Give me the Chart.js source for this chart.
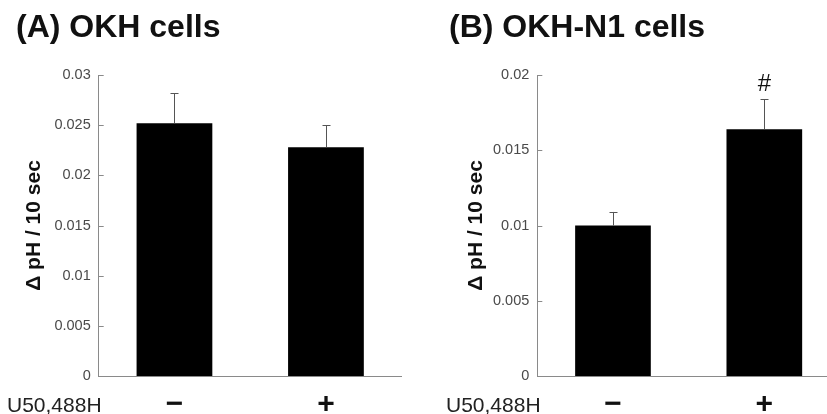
<!DOCTYPE html>
<html>
<head>
<meta charset="utf-8">
<script src="https://cdn.jsdelivr.net/npm/chart.js@4.4.1/dist/chart.umd.min.js"></script>
<style>
  html, body { margin: 0; padding: 0; background: #fff; }
  body { width: 827px; height: 414px; position: relative; overflow: hidden; font-family: "Liberation Sans", Arial, sans-serif; }
  .panel { position: absolute; top: 0; height: 414px; }
  .title { position: absolute; top: 8px; font-weight: bold; font-size: 32px; line-height: 36px; color: #111; white-space: nowrap; }
  .drug { position: absolute; top: 393px; font-size: 21px; line-height: 24px; color: #222; white-space: nowrap; }
</style>
</head>
<body>
<div class="panel" style="left:0;width:420px"><canvas id="chart-a" width="420" height="414"></canvas></div>
<div class="panel" style="left:420px;width:440px"><canvas id="chart-b" width="440" height="414"></canvas></div>
<div class="title" style="left:16px">(A) OKH cells</div>
<div class="title" style="left:449px">(B) OKH-N1 cells</div>
<div class="drug" style="left:7px">U50,488H</div>
<div class="drug" style="left:446px">U50,488H</div>
<script>
  var categories = ["\u2212", "+"];

  var valuesA = [0.0252, 0.0228];
  var errorsA = [0.0030, 0.0022];
  var ticksA = [0, 0.005, 0.01, 0.015, 0.02, 0.025, 0.03];
  var tickLabelsA = ["0", "0.005", "0.01", "0.015", "0.02", "0.025", "0.03"];

  var valuesB = [0.0100, 0.0164];
  var errorsB = [0.0009, 0.0020];
  var marksB = ["", "#"];
  var ticksB = [0, 0.005, 0.01, 0.015, 0.02];
  var tickLabelsB = ["0", "0.005", "0.01", "0.015", "0.02"];

  var yTitle = "\u0394 pH / 10 sec";

(function () {
  "use strict";

  var AXIS = "#8a8a8a";
  var FONT = "'Liberation Sans', Arial, sans-serif";

  // error bars (up only), inward y ticks, "#" marks
  var extrasPlugin = {
    id: "extras",
    afterDatasetsDraw: function (chart, args, opts) {
      var ctx = chart.ctx;
      var y = chart.scales.y;
      var area = chart.chartArea;
      var meta = chart.getDatasetMeta(0);
      var data = chart.data.datasets[0].data;
      ctx.save();

      ctx.strokeStyle = AXIS;
      ctx.lineWidth = 1;
      y.ticks.forEach(function (t) {
        if (t.value === 0) return;
        var py = Math.round(y.getPixelForValue(t.value)) + 0.5;
        ctx.beginPath();
        ctx.moveTo(area.left, py);
        ctx.lineTo(area.left + 5, py);
        ctx.stroke();
      });

      ctx.strokeStyle = "#555";
      meta.data.forEach(function (bar, i) {
        var x = Math.round(bar.x) + 0.5;
        var top = y.getPixelForValue(data[i] + opts.errors[i]);
        ctx.beginPath();
        ctx.moveTo(x, y.getPixelForValue(data[i]));
        ctx.lineTo(x, top);
        ctx.moveTo(x - 4, Math.round(top) + 0.5);
        ctx.lineTo(x + 4, Math.round(top) + 0.5);
        ctx.stroke();
        var mark = opts.marks && opts.marks[i];
        if (mark) {
          ctx.fillStyle = "#111";
          ctx.font = "24px " + FONT;
          ctx.textAlign = "center";
          ctx.textBaseline = "bottom";
          ctx.fillText(mark, bar.x, top - 3);
        }
      });
      ctx.restore();
    },
  };

  function makeChart(id, values, errors, marks, ticks, tickLabels, yWidth, titlePad, padRight) {
    var el = document.getElementById(id);
    var max = ticks[ticks.length - 1];
    return new Chart(el.getContext("2d"), {
      type: "bar",
      data: {
        labels: categories,
        datasets: [
          {
            data: values,
            backgroundColor: "#000",
            borderWidth: 0,
            barPercentage: 0.5,
            categoryPercentage: 1,
          },
        ],
      },
      plugins: [extrasPlugin],
      options: {
        responsive: false,
        animation: false,
        layout: { padding: { top: 75, right: padRight, bottom: 0, left: 0 } },
        scales: {
          x: {
            grid: { display: false, drawTicks: false },
            border: { display: true, color: AXIS, width: 1 },
            ticks: {
              color: "#111",
              padding: 11,
              font: { family: FONT, size: 30, weight: "bold", lineHeight: 1.2 },
            },
            afterFit: function (scale) {
              scale.height = 38;
            },
          },
          y: {
            min: 0,
            max: max,
            grid: { display: false, drawTicks: false },
            border: { display: true, color: AXIS, width: 1 },
            afterBuildTicks: function (scale) {
              scale.ticks = ticks.map(function (v) {
                return { value: v };
              });
            },
            ticks: {
              color: "#4a4a4a",
              padding: 8,
              font: { family: FONT, size: 14.5 },
              callback: function (val, i) {
                return tickLabels[i];
              },
            },
            title: {
              display: true,
              text: yTitle,
              color: "#111",
              padding: { top: titlePad, bottom: 0 },
              font: { family: FONT, size: 21, weight: "bold" },
            },
            afterFit: function (scale) {
              scale.width = yWidth;
            },
          },
        },
        plugins: {
          legend: { display: false },
          tooltip: { enabled: false },
          extras: { errors: errors, marks: marks },
        },
      },
    });
  }

  makeChart("chart-a", valuesA, errorsA, null, ticksA, tickLabelsA, 98.7, 21.4, 18.3);
  makeChart("chart-b", valuesB, errorsB, marksB, ticksB, tickLabelsB, 117.3, 44, 20);
})();
</script>
</body>
</html>
